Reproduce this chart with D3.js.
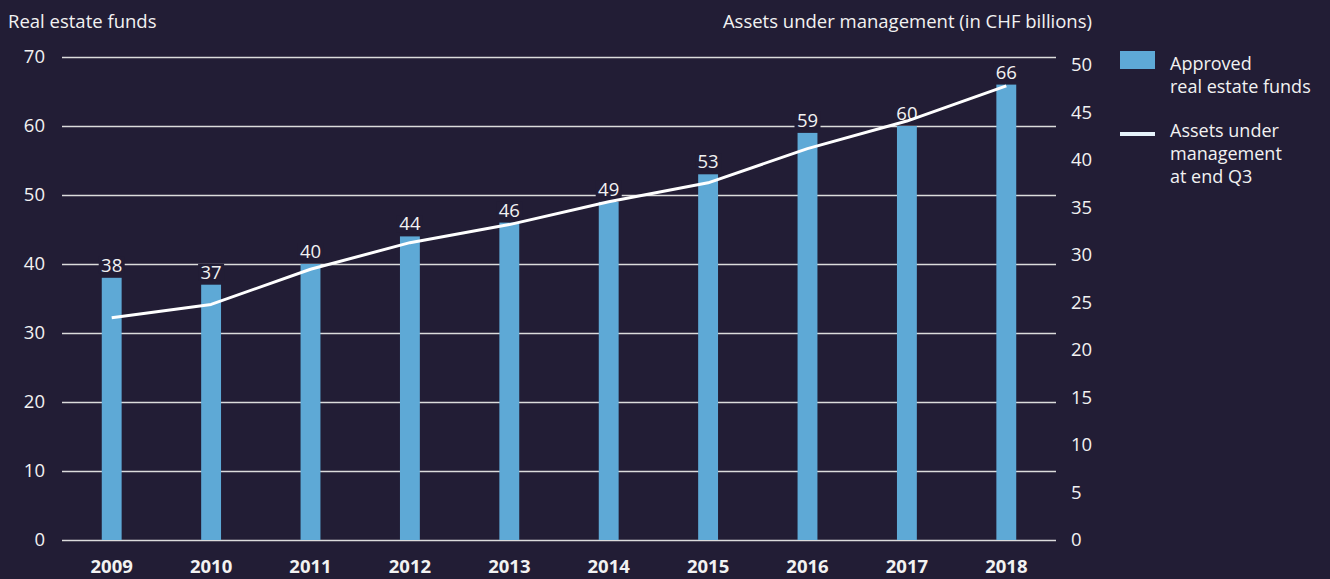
<!DOCTYPE html>
<html>
<head>
<meta charset="utf-8">
<script src="https://cdn.jsdelivr.net/npm/d3@7"></script>
<style>
  html, body { margin: 0; padding: 0; background: #221d35; }
  text { font-family: "Open Sans", "Noto Sans", sans-serif; fill: #f2f2f2; }
</style>
</head>
<body>
<div class="chartArea"></div>
<script>
// data
const years = ['2009', '2010', '2011', '2012', '2013', '2014', '2015', '2016', '2017', '2018']
const funds = [38, 37, 40, 44, 46, 49, 53, 59, 60, 66]
const assets = [23.4, 24.8, 28.5, 31.3, 33.2, 35.6, 37.6, 41.2, 44.1, 47.8]
const leftTicks = [0, 10, 20, 30, 40, 50, 60, 70]
const rightTicks = [0, 5, 10, 15, 20, 25, 30, 35, 40, 45, 50]

let width = 1330,
    height = 579

const bg = '#221d35',
      barColor = '#5ea9d6',
      fs = 18.5

const svg = d3.select('.chartArea')
    .append('svg')
    .attr('width', width)
    .attr('height', height)

svg.append('rect')
    .attr('width', width)
    .attr('height', height)
    .attr('fill', bg)

const xScale = d3.scaleBand()
    .domain(years)
    .range([62, 1056])
    .paddingInner(0.8)
    .paddingOuter(0.4)

const yLeft = d3.scaleLinear()
    .domain([0, 70])
    .range([540, 57])

const yRight = d3.scaleLinear()
    .domain([0, 50])
    .range([540, 65])

// gridlines + left labels
const leftAxis = d3.axisLeft(yLeft)
    .tickValues(leftTicks)
    .tickSize(-(1056 - 62))
    .tickPadding(17)

svg.append('g')
    .attr('transform', 'translate(62, 0)')
    .call(leftAxis)
    .call(g => g.select('.domain').remove())
    .call(g => g.selectAll('line').attr('stroke', '#dcdcdc').attr('stroke-width', 1.3))
    .call(g => g.selectAll('text')
        .attr('font-size', fs)
        .attr('fill', '#f2f2f2')
        .style('font-family', '"Open Sans", sans-serif'))

// right labels, no lines
const rightAxis = d3.axisRight(yRight)
    .tickValues(rightTicks)
    .tickSize(0)
    .tickPadding(0)

svg.append('g')
    .attr('transform', 'translate(1071, 0)')
    .call(rightAxis)
    .call(g => g.select('.domain').remove())
    .call(g => g.selectAll('text')
        .attr('font-size', fs)
        .attr('fill', '#f2f2f2')
        .style('font-family', '"Open Sans", sans-serif'))

// x axis, bold years
const xAxis = d3.axisBottom(xScale).tickSize(0).tickPadding(0)

svg.append('g')
    .attr('transform', 'translate(0, 560)')
    .call(xAxis)
    .call(g => g.select('.domain').remove())
    .call(g => g.selectAll('text')
        .attr('font-size', fs)
        .attr('font-weight', 'bold')
        .attr('fill', '#f2f2f2')
        .attr('dy', '0.71em')
        .style('font-family', '"Open Sans", sans-serif'))

// bars
svg.selectAll('.bar')
    .data(funds)
    .enter()
    .append('rect')
    .attr('class', 'bar')
    .attr('x', (d, i) => xScale(years[i]))
    .attr('width', xScale.bandwidth())
    .attr('y', d => yLeft(d))
    .attr('height', d => 540 - yLeft(d))
    .attr('fill', barColor)

// value labels with a background patch that breaks the gridline
const labels = svg.selectAll('.val')
    .data(funds)
    .enter()
    .append('g')
    .attr('class', 'val')
    .attr('transform', (d, i) => `translate(${xScale(years[i]) + xScale.bandwidth() / 2}, ${yLeft(d) - 6})`)

labels.append('rect')
    .attr('x', -13)
    .attr('y', -15)
    .attr('width', 26)
    .attr('height', 17)
    .attr('fill', bg)

labels.append('text')
    .attr('text-anchor', 'middle')
    .attr('font-size', fs)
    .text(d => d)

// assets line
const line = d3.line()
    .x((d, i) => xScale(years[i]) + xScale.bandwidth() / 2)
    .y(d => yRight(d))

svg.append('path')
    .datum(assets)
    .attr('d', line)
    .attr('fill', 'none')
    .attr('stroke', '#ffffff')
    .attr('stroke-width', 3)
    .attr('stroke-linejoin', 'round')

// axis titles
svg.append('text')
    .attr('x', 8)
    .attr('y', 28)
    .attr('font-size', fs)
    .text('Real estate funds')

svg.append('text')
    .attr('x', 1092)
    .attr('y', 28)
    .attr('text-anchor', 'end')
    .attr('font-size', fs)
    .text('Assets under management (in CHF billions)')

// legend
const legend = svg.append('g').attr('transform', 'translate(1120, 0)')

legend.append('rect')
    .attr('x', 0)
    .attr('y', 51)
    .attr('width', 35)
    .attr('height', 18)
    .attr('fill', barColor)

legend.append('rect')
    .attr('x', 0)
    .attr('y', 132)
    .attr('width', 35)
    .attr('height', 4)
    .attr('fill', '#e6f3fb')

const legendText = [
  { y: 70, t: 'Approved' },
  { y: 93, t: 'real estate funds' },
  { y: 137, t: 'Assets under' },
  { y: 160, t: 'management' },
  { y: 183, t: 'at end Q3' }
]

legend.selectAll('.lt')
    .data(legendText)
    .enter()
    .append('text')
    .attr('x', 50)
    .attr('y', d => d.y)
    .attr('font-size', 18)
    .text(d => d.t)
</script>
</body>
</html>
